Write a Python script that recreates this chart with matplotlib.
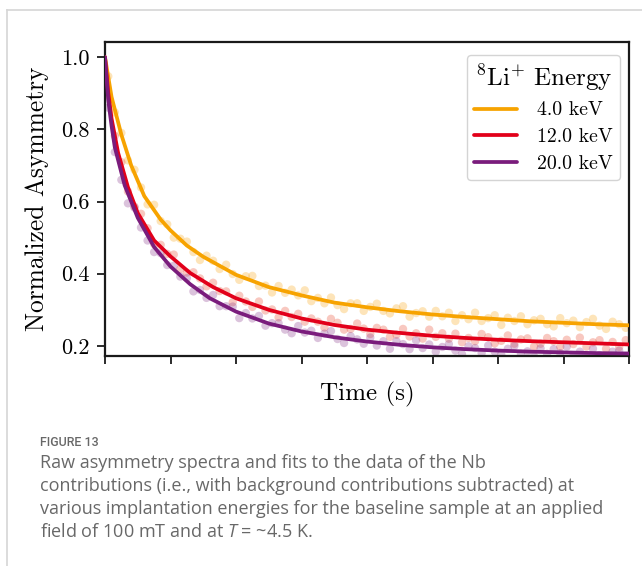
import matplotlib
matplotlib.use("Agg")
import matplotlib.pyplot as plt
from matplotlib.lines import Line2D

plt.rcParams['font.family'] = 'cmr10'
plt.rcParams['mathtext.fontset'] = 'cm'
plt.rcParams['axes.formatter.use_mathtext'] = True
plt.rcParams['mathtext.rm'] = 'Open Sans'
plt.rcParams['mathtext.it'] = 'Open Sans:italic'

# ---------------- data ----------------
energies = ["4.0 keV", "12.0 keV", "20.0 keV"]
colors = ["#f7a300", "#e2001a", "#7a1c7c"]
dot_colors = ["#f9a81a", "#ea4a30", "#8a3a8c"]

time_data = [0.05, 0.15, 0.25, 0.35, 0.45, 0.55, 0.65, 0.75, 0.85, 0.95,
             1.05, 1.15, 1.25, 1.35, 1.45, 1.55, 1.65, 1.75, 1.85, 1.95,
             2.05, 2.15, 2.25, 2.35, 2.45, 2.55, 2.65, 2.75, 2.85, 2.95,
             3.05, 3.15, 3.25, 3.35, 3.45, 3.55, 3.65, 3.75, 3.85, 3.95,
             4.05, 4.15, 4.25, 4.35, 4.45, 4.55, 4.65, 4.75, 4.85, 4.95,
             5.05, 5.15, 5.25, 5.35, 5.45, 5.55, 5.65, 5.75, 5.85, 5.95,
             6.05, 6.15, 6.25, 6.35, 6.45, 6.55, 6.65, 6.75, 6.85, 6.95,
             7.05, 7.15, 7.25, 7.35, 7.45, 7.55, 7.65, 7.75, 7.85, 7.95]

asym_4keV = [0.947, 0.847, 0.790, 0.714, 0.688, 0.639, 0.592, 0.591, 0.546, 0.537,
             0.500, 0.497, 0.489, 0.460, 0.438, 0.450, 0.436, 0.413, 0.425, 0.399,
             0.383, 0.393, 0.394, 0.366, 0.367, 0.348, 0.366, 0.347, 0.356, 0.340,
             0.354, 0.324, 0.333, 0.318, 0.334, 0.313, 0.302, 0.318, 0.318, 0.297,
             0.308, 0.317, 0.297, 0.290, 0.304, 0.310, 0.281, 0.291, 0.296, 0.281,
             0.297, 0.282, 0.292, 0.269, 0.285, 0.274, 0.292, 0.269, 0.277, 0.285,
             0.258, 0.278, 0.269, 0.282, 0.260, 0.271, 0.275, 0.260, 0.254, 0.277,
             0.263, 0.270, 0.252, 0.266, 0.275, 0.256, 0.247, 0.267, 0.260, 0.250]

asym_12keV = [0.893, 0.782, 0.709, 0.628, 0.586, 0.566, 0.526, 0.482, 0.480, 0.455,
              0.453, 0.413, 0.403, 0.404, 0.387, 0.365, 0.375, 0.352, 0.351, 0.321,
              0.339, 0.323, 0.308, 0.323, 0.298, 0.301, 0.279, 0.297, 0.280, 0.289,
              0.267, 0.276, 0.267, 0.251, 0.275, 0.264, 0.245, 0.247, 0.262, 0.248,
              0.233, 0.250, 0.245, 0.225, 0.231, 0.247, 0.226, 0.235, 0.220, 0.245,
              0.225, 0.235, 0.220, 0.234, 0.210, 0.222, 0.213, 0.233, 0.224, 0.207,
              0.214, 0.229, 0.206, 0.218, 0.221, 0.198, 0.206, 0.222, 0.213, 0.198,
              0.217, 0.205, 0.223, 0.198, 0.210, 0.216, 0.192, 0.211, 0.197, 0.216]

asym_20keV = [0.860, 0.737, 0.660, 0.595, 0.583, 0.528, 0.492, 0.460, 0.457, 0.424,
              0.422, 0.392, 0.388, 0.351, 0.355, 0.333, 0.341, 0.310, 0.310, 0.309,
              0.277, 0.291, 0.276, 0.283, 0.256, 0.263, 0.263, 0.245, 0.235, 0.255,
              0.237, 0.242, 0.222, 0.234, 0.241, 0.219, 0.208, 0.227, 0.218, 0.206,
              0.223, 0.201, 0.213, 0.192, 0.213, 0.205, 0.191, 0.215, 0.194, 0.204,
              0.184, 0.197, 0.205, 0.187, 0.177, 0.199, 0.194, 0.180, 0.201, 0.184,
              0.176, 0.192, 0.200, 0.178, 0.185, 0.171, 0.193, 0.178, 0.191, 0.180,
              0.198, 0.171, 0.184, 0.172, 0.192, 0.174, 0.168, 0.184, 0.187, 0.168]

fit_time_4keV = [0.0, 0.1, 0.25, 0.4, 0.6, 0.85, 1.0, 1.25, 1.5, 2.0, 2.5, 3.0,
                 3.5, 4.0, 4.5, 5.0, 5.5, 6.0, 6.5, 7.0, 7.5, 8.0]
fit_4keV = [1.0, 0.89, 0.785, 0.70, 0.615, 0.55, 0.52, 0.478, 0.447, 0.397, 0.363, 0.340,
            0.320, 0.307, 0.296, 0.287, 0.280, 0.274, 0.268, 0.264, 0.260, 0.257]

fit_time_12keV = [0.0, 0.05, 0.1, 0.2, 0.35, 0.5, 0.75, 1.0, 1.3, 1.65, 2.0, 2.5,
                  3.0, 3.5, 4.0, 4.5, 5.0, 5.5, 6.0, 6.5, 7.0, 7.5, 8.0]
fit_12keV = [1.0, 0.90, 0.83, 0.735, 0.64, 0.568, 0.492, 0.448, 0.402, 0.363, 0.332, 0.300,
             0.276, 0.258, 0.245, 0.236, 0.228, 0.222, 0.217, 0.213, 0.210, 0.207, 0.204]

fit_time_20keV = [0.0, 0.05, 0.1, 0.15, 0.3, 0.5, 0.75, 1.0, 1.3, 1.6, 2.0, 2.5,
                  3.0, 3.5, 4.0, 4.5, 5.0, 5.5, 6.0, 6.5, 7.0, 7.5, 8.0]
fit_20keV = [1.0, 0.88, 0.81, 0.75, 0.645, 0.555, 0.474, 0.420, 0.371, 0.332, 0.295, 0.262,
             0.240, 0.224, 0.212, 0.203, 0.196, 0.191, 0.187, 0.184, 0.182, 0.180, 0.179]

x_ticks = [0, 1, 2, 3, 4, 5, 6, 7, 8]
y_ticks = [0.2, 0.4, 0.6, 0.8, 1.0]
y_ticklabels = ["0.2", "0.4", "0.6", "0.8", "1.0"]

# ---------------- figure ----------------
W, H = 642, 566
fig = plt.figure(figsize=(W / 100, H / 100), dpi=100)

# page frame
fig.add_artist(Line2D([7 / W, 1.0], [1 - 10 / H, 1 - 10 / H], color="#d6d6d6", lw=1.2))
fig.add_artist(Line2D([7 / W, 7 / W], [1 - 10 / H, 0.0], color="#d6d6d6", lw=1.2))

ax = fig.add_axes([105 / W, 1 - 356 / H, 524 / W, 314 / H])

data_sets = [asym_4keV, asym_12keV, asym_20keV]
fit_ts = [fit_time_4keV, fit_time_12keV, fit_time_20keV]
fits = [fit_4keV, fit_12keV, fit_20keV]

for vals, c in zip(data_sets, dot_colors):
    ax.scatter(time_data, vals, s=36, color=c, alpha=0.3, edgecolors="none", zorder=2)
for ft, fv, c, lab in zip(fit_ts, fits, colors, energies):
    ax.plot(ft, fv, color=c, lw=2.7, label=lab, zorder=3, solid_capstyle="round")

ax.set_xlim(0, 8)
ax.set_ylim(0.172, 1.042)
ax.set_xticks(x_ticks)
ax.set_xticklabels([])
ax.set_yticks(y_ticks)
ax.set_yticklabels(y_ticklabels)
ax.tick_params(axis="both", direction="out", length=6, width=1.3, color="#1a1a1a",
               labelsize=16, pad=5)
for sp in ax.spines.values():
    sp.set_linewidth(1.6)
    sp.set_color("#1a1a1a")

ax.set_xlabel("Time (s)", fontsize=18, labelpad=8)
ax.set_ylabel("Normalized Asymmetry", fontsize=18.3, labelpad=9)

leg = ax.legend(title=r"$^{8}$Li$^{+}$ Energy", loc="upper right",
                bbox_to_anchor=((620 - 105) / 524, (356 - 55) / 314), borderaxespad=0,
                fontsize=14.3, title_fontsize=18,
                frameon=True, fancybox=True, edgecolor="#d0d0d0", framealpha=0.9,
                handlelength=2.2, handletextpad=1.0, labelspacing=0.45,
                borderpad=0.35)
leg._legend_box.align = "right"
for line in leg.get_lines():
    line.set_linewidth(2.7)

# caption
cap_color = "#686868"
fig.text(40 / W, 1 - 442 / H, "FIGURE 13", fontsize=9.0, color=cap_color,
         family="Roboto", weight="medium", va="center")
cap_lines = [
    "Raw asymmetry spectra and fits to the data of the Nb",
    "contributions (i.e., with background contributions subtracted) at",
    "various implantation energies for the baseline sample at an applied",
    r"field of 100 mT and at $\mathit{T}$ = ~4.5 K.",
]
for i, line in enumerate(cap_lines):
    fig.text(40 / W, 1 - (463 + i * 23) / H, line, fontsize=13.0, color=cap_color,
             family="Open Sans", va="center", math_fontfamily="custom")

fig.savefig("out.png", dpi=100)
